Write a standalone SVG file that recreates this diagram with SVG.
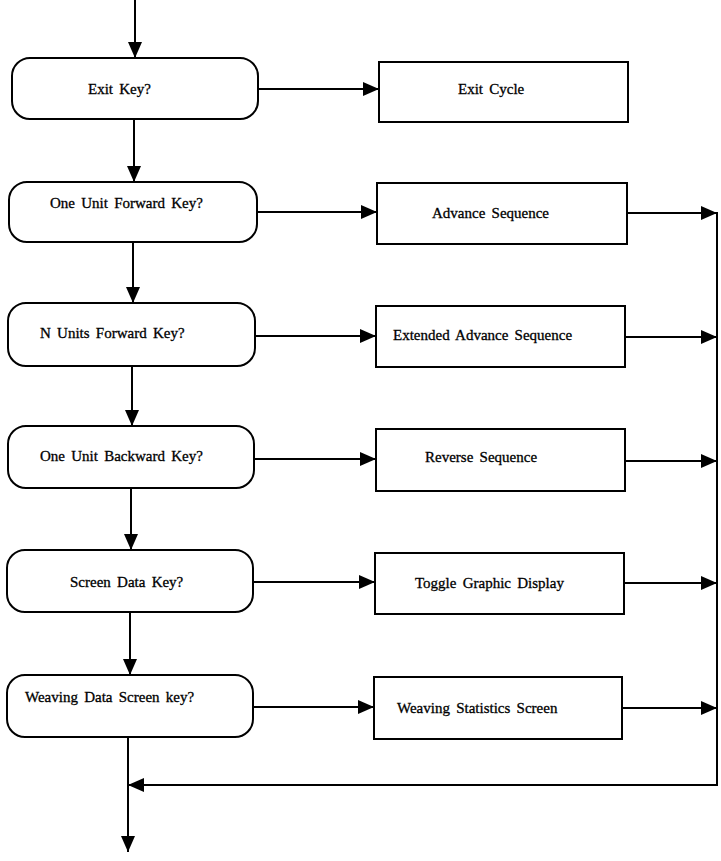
<svg xmlns="http://www.w3.org/2000/svg" width="721" height="861" viewBox="0 0 721 861">
  <style>
    .box { fill: #ffffff; stroke: #000000; stroke-width: 2; }
    .lbl { font-family: "Liberation Serif", "Times New Roman", serif; font-size: 15px; word-spacing: 2.5px; fill: #000000; stroke: #000000; stroke-width: 0.3; }
    .edge { fill: none; stroke: #000000; stroke-width: 2; marker-end: url(#arrow); }
    .plain { fill: none; stroke: #000000; stroke-width: 2; }
  </style>
  <defs>
    <marker id="arrow" markerUnits="userSpaceOnUse" markerWidth="16" markerHeight="14" refX="16" refY="7" orient="auto">
      <path d="M0,0 L16,7 L0,14 z" fill="#000000"/>
    </marker>
  </defs>
  <rect width="721" height="861" fill="#ffffff"/>

  <!-- Decision nodes (rounded) -->
  <g id="exit-key"><rect class="box" x="12" y="58" width="246" height="61" rx="18"/><text class="lbl" x="88" y="94">Exit Key?</text></g>
  <g id="one-forward-key"><rect class="box" x="9" y="182" width="248" height="60" rx="18"/><text class="lbl" x="50" y="208">One Unit Forward Key?</text></g>
  <g id="n-forward-key"><rect class="box" x="8" y="303" width="247" height="63" rx="18"/><text class="lbl" x="40" y="338">N Units Forward Key?</text></g>
  <g id="one-backward-key"><rect class="box" x="8" y="426" width="246" height="62" rx="18"/><text class="lbl" x="40" y="461">One Unit Backward Key?</text></g>
  <g id="screen-data-key"><rect class="box" x="7" y="550" width="246" height="62" rx="18"/><text class="lbl" x="70" y="587">Screen Data Key?</text></g>
  <g id="weaving-data-key"><rect class="box" x="7" y="675" width="246" height="62" rx="18"/><text class="lbl" x="25" y="702">Weaving Data Screen key?</text></g>

  <!-- Action nodes -->
  <g id="exit-cycle"><rect class="box" x="379" y="62" width="249" height="60"/><text class="lbl" x="458" y="94">Exit Cycle</text></g>
  <g id="advance-seq"><rect class="box" x="377" y="183" width="250" height="61"/><text class="lbl" x="432" y="218">Advance Sequence</text></g>
  <g id="ext-advance-seq"><rect class="box" x="376" y="306" width="249" height="61"/><text class="lbl" x="393" y="340">Extended Advance Sequence</text></g>
  <g id="reverse-seq"><rect class="box" x="376" y="429" width="249" height="62"/><text class="lbl" x="425" y="462">Reverse Sequence</text></g>
  <g id="toggle-display"><rect class="box" x="375" y="553" width="249" height="61"/><text class="lbl" x="415" y="588">Toggle Graphic Display</text></g>
  <g id="weaving-stats"><rect class="box" x="374" y="677" width="248" height="62"/><text class="lbl" x="397" y="713">Weaving Statistics Screen</text></g>

  <!-- Connectors -->
  <g id="connectors">
    <line class="edge" x1="135" y1="0" x2="135" y2="58"/>
    <line class="edge" x1="134" y1="119" x2="134" y2="182"/>
    <line class="edge" x1="133" y1="242" x2="133" y2="303"/>
    <line class="edge" x1="132" y1="366" x2="132" y2="426"/>
    <line class="edge" x1="131" y1="488" x2="131" y2="550"/>
    <line class="edge" x1="130" y1="612" x2="130" y2="675"/>
    <line class="edge" x1="128" y1="737" x2="128" y2="852"/>

    <line class="edge" x1="258" y1="89" x2="379" y2="89"/>
    <line class="edge" x1="257" y1="212" x2="377" y2="212"/>
    <line class="edge" x1="255" y1="336" x2="376" y2="336"/>
    <line class="edge" x1="254" y1="459" x2="376" y2="459"/>
    <line class="edge" x1="253" y1="582" x2="375" y2="582"/>
    <line class="edge" x1="253" y1="707" x2="374" y2="707"/>

    <line class="edge" x1="627" y1="213" x2="717" y2="213"/>
    <line class="edge" x1="625" y1="337" x2="717" y2="337"/>
    <line class="edge" x1="625" y1="461" x2="717" y2="461"/>
    <line class="edge" x1="624" y1="583" x2="717" y2="583"/>
    <line class="edge" x1="622" y1="708" x2="717" y2="708"/>

    <line class="plain" x1="717" y1="212" x2="717" y2="786"/>
    <line class="edge" x1="718" y1="785" x2="128" y2="785"/>
  </g>
</svg>
